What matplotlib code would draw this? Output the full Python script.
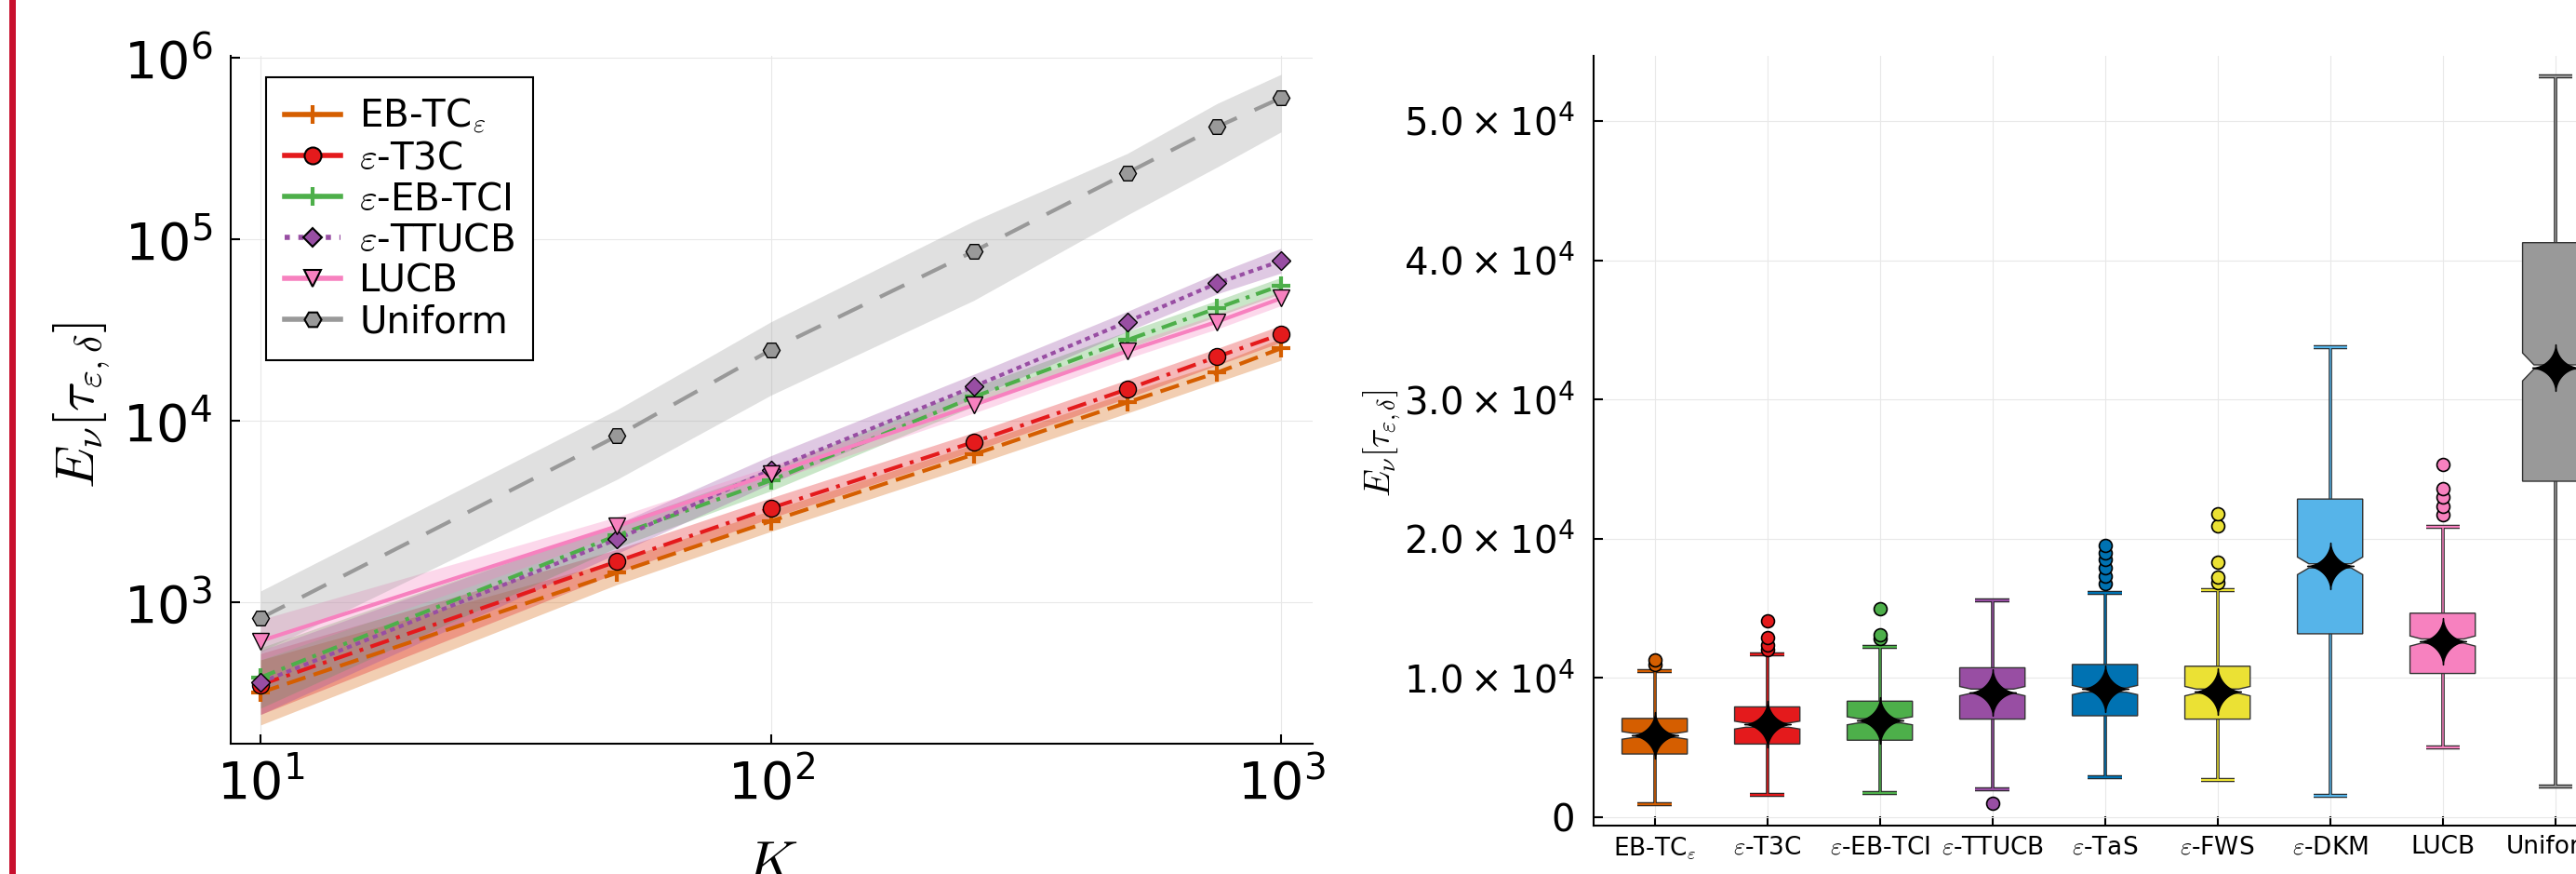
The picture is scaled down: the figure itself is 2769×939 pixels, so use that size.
import numpy as np
import matplotlib
matplotlib.use("Agg")
import matplotlib.pyplot as plt
from matplotlib.lines import Line2D
from matplotlib.patches import Polygon, Rectangle
from matplotlib.path import Path
from matplotlib.ticker import FixedLocator, FuncFormatter, NullLocator

plt.rcParams['font.family'] = 'DejaVu Sans'
plt.rcParams['mathtext.fontset'] = 'dejavusans'

# ---- left panel: expected stopping time vs K (log-log) ----
K = [10, 50, 100, 250, 500, 750, 1000]

ebtc_mean = [317, 1450, 2790, 6510, 12600, 18400, 25000]
ebtc_lo = [210, 1250, 2450, 5700, 11000, 16300, 21500]
ebtc_hi = [480, 1700, 3200, 7400, 14300, 20600, 28500]

t3c_mean = [350, 1675, 3290, 7620, 14900, 22500, 29900]
t3c_lo = [240, 1450, 2900, 6800, 13300, 20200, 27000]
t3c_hi = [520, 1950, 3750, 8600, 16800, 25000, 33500]

ebtci_mean = [384, 2330, 4680, 13500, 27800, 41700, 55600]
ebtci_lo = [260, 2000, 4100, 12000, 25000, 37500, 50000]
ebtci_hi = [560, 2700, 5400, 15300, 31000, 46000, 61500]

ttucb_mean = [360, 2220, 5350, 15400, 35100, 57200, 75900]
ttucb_lo = [240, 1850, 4500, 13300, 31000, 50000, 65000]
ttucb_hi = [540, 2700, 6400, 18000, 40000, 65000, 89000]

lucb_mean = [610, 2620, 5090, 12200, 24200, 35100, 47200]
lucb_lo = [480, 2350, 4600, 11000, 22000, 32000, 43000]
lucb_hi = [800, 2950, 5600, 13500, 26500, 38500, 51500]

unif_mean = [815, 8230, 24500, 85700, 232000, 416000, 600000]
unif_lo = [530, 4750, 13800, 46000, 136000, 250000, 390000]
unif_hi = [1150, 11500, 35000, 126000, 297000, 560000, 810000]

# ---- right panel: boxplots ----
box_names = ["EB-TC$_{\\varepsilon}$", "$\\varepsilon$-T3C", "$\\varepsilon$-EB-TCI",
             "$\\varepsilon$-TTUCB", "$\\varepsilon$-TaS", "$\\varepsilon$-FWS",
             "$\\varepsilon$-DKM", "LUCB", "Uniform"]
box_q1 = [4545, 5260, 5535, 7050, 7290, 7050, 13180, 10330, 24140]
box_med = [5880, 6620, 6930, 9060, 9140, 9060, 18060, 12660, 32350]
box_q3 = [7100, 7930, 8340, 10740, 10975, 10850, 22860, 14660, 41280]
box_wlo = [935, 1600, 1770, 2010, 2850, 2650, 1570, 5010, 2200]
box_whi = [10510, 11720, 12260, 15580, 16100, 16340, 33750, 20860, 53210]
box_mean = [5900, 6700, 6950, 8950, 9200, 9050, 18050, 12650, 32300]
box_out = [[11000, 11300],
           [12060, 12400, 12940, 14140],
           [12860, 13140, 14980],
           [1010],
           [16800, 17300, 17900, 18500, 19000, 19500],
           [16860, 17260, 18340, 20900, 21780],
           [],
           [21740, 22340, 22990, 23620, 25350],
           []]
n_runs = 1000

orange, red, green, purple = '#D55E00', '#E41A1C', '#4DAF4A', '#984EA3'
pink, gray, blue, yellow, sky = '#F781BF', '#999999', '#0072B2', '#EBE134', '#56B4E9'
box_colors = [orange, red, green, purple, blue, yellow, sky, pink, gray]

W, H = 2769, 939
fig = plt.figure(figsize=(W / 100, H / 100), dpi=100)

# red bar at the far left
fig.add_artist(Rectangle((10 / W, 0), 7 / W, 1, transform=fig.transFigure,
                         color='#C8102E', lw=0))

ax1 = fig.add_axes([247.5 / W, 1 - 799.3 / H, (1410.7 - 247.5) / W, (799.3 - 60) / H])
ax2 = fig.add_axes([1713.3 / W, 1 - 887.3 / H, (2812 - 1713.3) / W, (887.3 - 60) / H])

for ax in (ax1, ax2):
    for s in ('top', 'right'):
        ax.spines[s].set_visible(False)
    for s in ('left', 'bottom'):
        ax.spines[s].set_linewidth(1.5)
    ax.grid(True, color='#e8e8e8', lw=0.8, zorder=0)
    ax.set_axisbelow(True)
    ax.tick_params(direction='in', length=7, width=1.5)

series = [
    ("EB-TC$_{\\varepsilon}$", ebtc_mean, ebtc_lo, ebtc_hi, orange, '+', (5, 2.2)),
    ("$\\varepsilon$-T3C", t3c_mean, t3c_lo, t3c_hi, red, 'o', (5, 2, 1, 2)),
    ("$\\varepsilon$-EB-TCI", ebtci_mean, ebtci_lo, ebtci_hi, green, '+', (4, 1.8, 1, 1.8)),
    ("$\\varepsilon$-TTUCB", ttucb_mean, ttucb_lo, ttucb_hi, purple, 'D', (1.3, 1.1)),
    ("LUCB", lucb_mean, lucb_lo, lucb_hi, pink, 'v', None),
    ("Uniform", unif_mean, unif_lo, unif_hi, gray, 'H', (7, 5)),
]

handles = []
for name, m, lo, hi, c, mk, dash in series:
    ax1.fill_between(K, lo, hi, color=c, alpha=0.3, lw=0, zorder=2)
    ln, = ax1.plot(K, m, color=c, lw=3, zorder=3)
    if dash is not None:
        ln.set_dashes(dash)
    if mk == '+':
        ax1.plot(K, m, ls='none', marker='+', ms=15, mew=3, color=c, zorder=4)
        h = Line2D([], [], color=c, lw=4, marker='+', ms=15, mew=3)
    else:
        msz = 10 if mk == 'D' else 13
        ax1.plot(K, m, ls='none', marker=mk, ms=msz, mfc=c, mec='black', mew=1, zorder=4)
        h = Line2D([], [], color=c, lw=4, marker=mk, ms=msz, mfc=c, mec='black', mew=1.5,
                   ls=':' if mk == 'D' else '-')
    handles.append(h)

ax1.set_xscale('log')
ax1.set_yscale('log')
ax1.set_xlim(8.72, 1152)
ax1.set_ylim(165, 1.024e6)
ax1.xaxis.set_major_locator(FixedLocator([10, 100, 1000]))
ax1.yaxis.set_major_locator(FixedLocator([1e3, 1e4, 1e5, 1e6]))
ax1.xaxis.set_minor_locator(NullLocator())
ax1.yaxis.set_minor_locator(NullLocator())
logfmt = FuncFormatter(lambda v, p: "$10^{%d}$" % int(round(np.log10(v))))
ax1.xaxis.set_major_formatter(logfmt)
ax1.yaxis.set_major_formatter(logfmt)
ax1.tick_params(axis='both', labelsize=40)
ax1.tick_params(axis='x', pad=11)
ax1.tick_params(axis='y', pad=14)

leg = ax1.legend(handles, [s[0] for s in series], loc='upper left',
                 bbox_to_anchor=(0.0328, 0.9685), borderaxespad=0,
                 frameon=True, fancybox=False, framealpha=1, edgecolor='black',
                 handlelength=1.5, handletextpad=0.5, labelspacing=0.1,
                 borderpad=0.5, prop={'size': 29, 'math_fontfamily': 'cm'})
leg.get_frame().set_linewidth(1.5)

fig.text(88 / W, 1 - 435 / H, "$E_{\\nu}[\\tau_{\\varepsilon,\\delta}]$", rotation=90,
         ha='center', va='center', fontsize=42, math_fontfamily='cm')
fig.text(829 / W, 1 - 900 / H, "$K$", ha='center', va='top', fontsize=44,
         math_fontfamily='cm')

# ---- boxplots drawn by hand (shallow notches like the source) ----
hw = 0.29
dep = 0.35 * hw
gap = 150
for i in range(len(box_names)):
    x = i + 1
    c = box_colors[i]
    q1, md, q3 = box_q1[i], box_med[i], box_q3[i]
    nh = 1.57 * (q3 - q1) / np.sqrt(n_runs)
    l, r = x - hw, x + hw
    # whiskers
    for y0, y1 in ((q3, box_whi[i]), (q1, box_wlo[i])):
        ax2.plot([x, x], [y0, y1], color='#222222', lw=2.6, zorder=3, solid_capstyle='butt')
        ax2.plot([x, x], [y0, y1], color=c, lw=1.1, zorder=3.1, solid_capstyle='butt')
    for yc in (box_whi[i], box_wlo[i]):
        ax2.plot([x - 0.15, x + 0.15], [yc, yc], color='#222222', lw=3.2, zorder=3,
                 solid_capstyle='butt')
        ax2.plot([x - 0.15, x + 0.15], [yc, yc], color=c, lw=1.6, zorder=3.1,
                 solid_capstyle='butt')
    upper = [(l, q3), (r, q3), (r, md + nh + gap), (r - dep, md + gap),
             (l + dep, md + gap), (l, md + nh + gap)]
    lower = [(l, md - nh - gap), (l + dep, md - gap), (r - dep, md - gap),
             (r, md - nh - gap), (r, q1), (l, q1)]
    for pts in (upper, lower):
        ax2.add_patch(Polygon(pts, closed=True, facecolor=c, edgecolor='#333333',
                              lw=1.0, zorder=4))
    if box_out[i]:
        ax2.plot([x] * len(box_out[i]), box_out[i], ls='none', marker='o', ms=10,
                 mfc=c, mec='black', mew=1.2, zorder=5)

t = np.linspace(0, 2 * np.pi, 241)
star4 = Path(np.column_stack([np.sign(np.cos(t)) * np.abs(np.cos(t)) ** 3.4,
                              np.sign(np.sin(t)) * np.abs(np.sin(t)) ** 3.4]))
ax2.plot(range(1, len(box_names) + 1), box_mean, ls='none', marker=star4, ms=36,
         color='black', zorder=6)

ax2.set_xlim(0.46, 9.54)
ax2.set_ylim(-620, 54700)
ax2.set_xticks(range(1, len(box_names) + 1))
ax2.set_xticklabels(box_names, fontsize=19)
for lab in ax2.get_xticklabels():
    lab.set_math_fontfamily('cm')
ax2.set_yticks([0, 10000, 20000, 30000, 40000, 50000])
ax2.yaxis.set_major_formatter(FuncFormatter(
    lambda v, p: "0" if v == 0 else "$%.1f\\times10^{4}$" % (v / 1e4)))
ax2.tick_params(axis='y', labelsize=29, pad=15)
ax2.tick_params(axis='x', pad=7)

fig.text(1486 / W, 1 - 476 / H, "$E_{\\nu}[\\tau_{\\varepsilon,\\delta}]$", rotation=90,
         ha='center', va='center', fontsize=27, math_fontfamily='cm')

fig.savefig("out.png", dpi=100)
